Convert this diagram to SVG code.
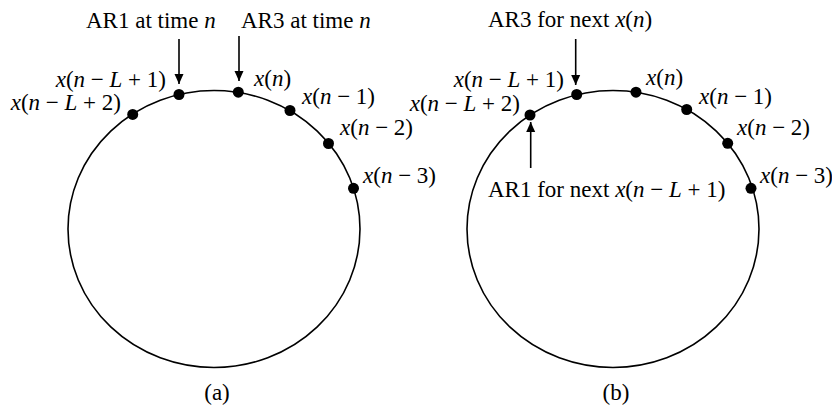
<svg xmlns="http://www.w3.org/2000/svg" width="832" height="408" viewBox="0 0 832 408">
<style>
text{font-family:"Liberation Serif","Times New Roman",serif;font-size:23px;fill:#000}
.i{font-style:italic}
.ring{fill:none;stroke:#000;stroke-width:1.6}
.dot{fill:#000}
.arr{stroke:#000;stroke-width:1.6;fill:none;marker-end:url(#ah)}
</style>
<defs>
<marker id="ah" markerUnits="userSpaceOnUse" markerWidth="10" markerHeight="10" viewBox="0 0 10 10" refX="10" refY="5" orient="auto">
<path d="M0,0.5 L10,5 L0,9.5 z" fill="#000"/>
</marker>
</defs>
<rect width="832" height="408" fill="#fff"/>
<g id="ringA">
<ellipse class="ring" cx="214" cy="229" rx="146" ry="138.5"/>
<circle class="dot" cx="132.7" cy="114.4" r="5.5"/>
<circle class="dot" cx="179" cy="94.5" r="5.5"/>
<circle class="dot" cx="238.3" cy="92.2" r="5.5"/>
<circle class="dot" cx="290" cy="110.5" r="5.5"/>
<circle class="dot" cx="328.5" cy="143.5" r="5.5"/>
<circle class="dot" cx="353.5" cy="188.3" r="5.5"/>
</g>
<g id="ringB">
<ellipse class="ring" cx="613" cy="229" rx="146" ry="138.5"/>
<circle class="dot" cx="530" cy="115" r="5.5"/>
<circle class="dot" cx="576.7" cy="94.5" r="5.5"/>
<circle class="dot" cx="636" cy="92.2" r="5.5"/>
<circle class="dot" cx="686.7" cy="109.5" r="5.5"/>
<circle class="dot" cx="727.7" cy="143.3" r="5.5"/>
<circle class="dot" cx="751" cy="188.3" r="5.5"/>
</g>
<g id="connectors">
<line class="arr" x1="179" y1="39" x2="179" y2="84"/>
<line class="arr" x1="239" y1="36" x2="239" y2="81"/>
<line class="arr" x1="575.7" y1="39" x2="575.7" y2="85"/>
<line class="arr" x1="530.7" y1="168" x2="530.7" y2="122"/>
</g>
<g id="labelsA">
<text x="86" y="28">AR1 at time <tspan class="i">n</tspan></text>
<text x="241" y="28">AR3 at time <tspan class="i">n</tspan></text>
<text x="166" y="87" text-anchor="end"><tspan class="i">x</tspan>(<tspan class="i">n</tspan> − <tspan class="i">L</tspan> + 1)</text>
<text x="121" y="110" text-anchor="end"><tspan class="i">x</tspan>(<tspan class="i">n</tspan> − <tspan class="i">L</tspan> + 2)</text>
<text x="254" y="86"><tspan class="i">x</tspan>(<tspan class="i">n</tspan>)</text>
<text x="302" y="104"><tspan class="i">x</tspan>(<tspan class="i">n</tspan> − 1)</text>
<text x="340" y="135"><tspan class="i">x</tspan>(<tspan class="i">n</tspan> − 2)</text>
<text x="363" y="183"><tspan class="i">x</tspan>(<tspan class="i">n</tspan> − 3)</text>
<text x="217" y="400" text-anchor="middle">(a)</text>
</g>
<g id="labelsB">
<text x="488" y="27">AR3 for next <tspan class="i">x</tspan>(<tspan class="i">n</tspan>)</text>
<text x="564" y="87" text-anchor="end"><tspan class="i">x</tspan>(<tspan class="i">n</tspan> − <tspan class="i">L</tspan> + 1)</text>
<text x="520" y="111" text-anchor="end"><tspan class="i">x</tspan>(<tspan class="i">n</tspan> − <tspan class="i">L</tspan> + 2)</text>
<text x="646" y="85"><tspan class="i">x</tspan>(<tspan class="i">n</tspan>)</text>
<text x="699" y="104"><tspan class="i">x</tspan>(<tspan class="i">n</tspan> − 1)</text>
<text x="737" y="135"><tspan class="i">x</tspan>(<tspan class="i">n</tspan> − 2)</text>
<text x="760" y="183"><tspan class="i">x</tspan>(<tspan class="i">n</tspan> − 3)</text>
<text x="488" y="197">AR1 for next <tspan class="i">x</tspan>(<tspan class="i">n</tspan> − <tspan class="i">L</tspan> + 1)</text>
<text x="616" y="400" text-anchor="middle">(b)</text>
</g>
</svg>
